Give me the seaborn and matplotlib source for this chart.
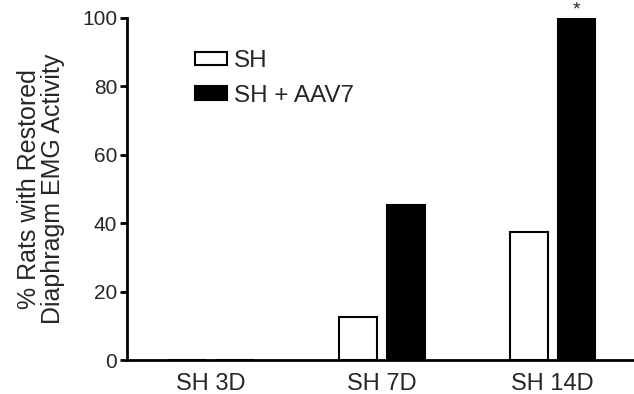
import matplotlib
matplotlib.use("Agg")
import matplotlib.pyplot as plt
import seaborn as sns
import pandas as pd

categories = ["SH 3D", "SH 7D", "SH 14D"]
groups = ["SH", "SH + AAV7"]
sh_values = [0, 12.5, 37.5]
aav7_values = [0, 45.45, 100]
yticks = [0, 20, 40, 60, 80, 100]

df = pd.DataFrame({
    "cat": categories * 2,
    "group": [groups[0]] * 3 + [groups[1]] * 3,
    "value": sh_values + aav7_values,
})

sns.set_theme(style="ticks")
plt.rcParams["font.family"] = ["Liberation Sans", "DejaVu Sans"]

fig = plt.figure(figsize=(6.34, 3.94), dpi=100)
ax = fig.add_axes([127 / 634, 1 - 360 / 394, (633 - 127) / 634, (360 - 18) / 394])

sns.barplot(data=df, x="cat", y="value", hue="group", order=categories,
            hue_order=groups, palette={"SH": "white", "SH + AAV7": "black"},
            width=0.56, gap=0.21, edgecolor="black", linewidth=1.5,
            errorbar=None, ax=ax)

ax.set_xlim(-0.49, 2.47)
ax.set_ylim(0, 100)
ax.set_yticks(yticks)
ax.set_xlabel("")
ax.set_ylabel("% Rats with Restored\nDiaphragm EMG Activity", fontsize=18,
              labelpad=12, linespacing=1.0)
ax.tick_params(axis="y", labelsize=15, width=2, length=5, color="black", pad=2)
ax.tick_params(axis="x", labelsize=17, length=0, pad=9)
for s in ["top", "right"]:
    ax.spines[s].set_visible(False)
for s in ["left", "bottom"]:
    ax.spines[s].set_linewidth(2)
    ax.spines[s].set_color("black")

ax.text(2 + 0.14, 100, "*", ha="center", va="bottom", fontsize=14)

leg = ax.legend(loc="upper left", bbox_to_anchor=(0.134, 0.905), frameon=False,
                fontsize=17.5, borderpad=0, borderaxespad=0, handlelength=1.32,
                handleheight=0.45, handletextpad=0.3, labelspacing=0.5)

fig.savefig("out.png", dpi=100)
